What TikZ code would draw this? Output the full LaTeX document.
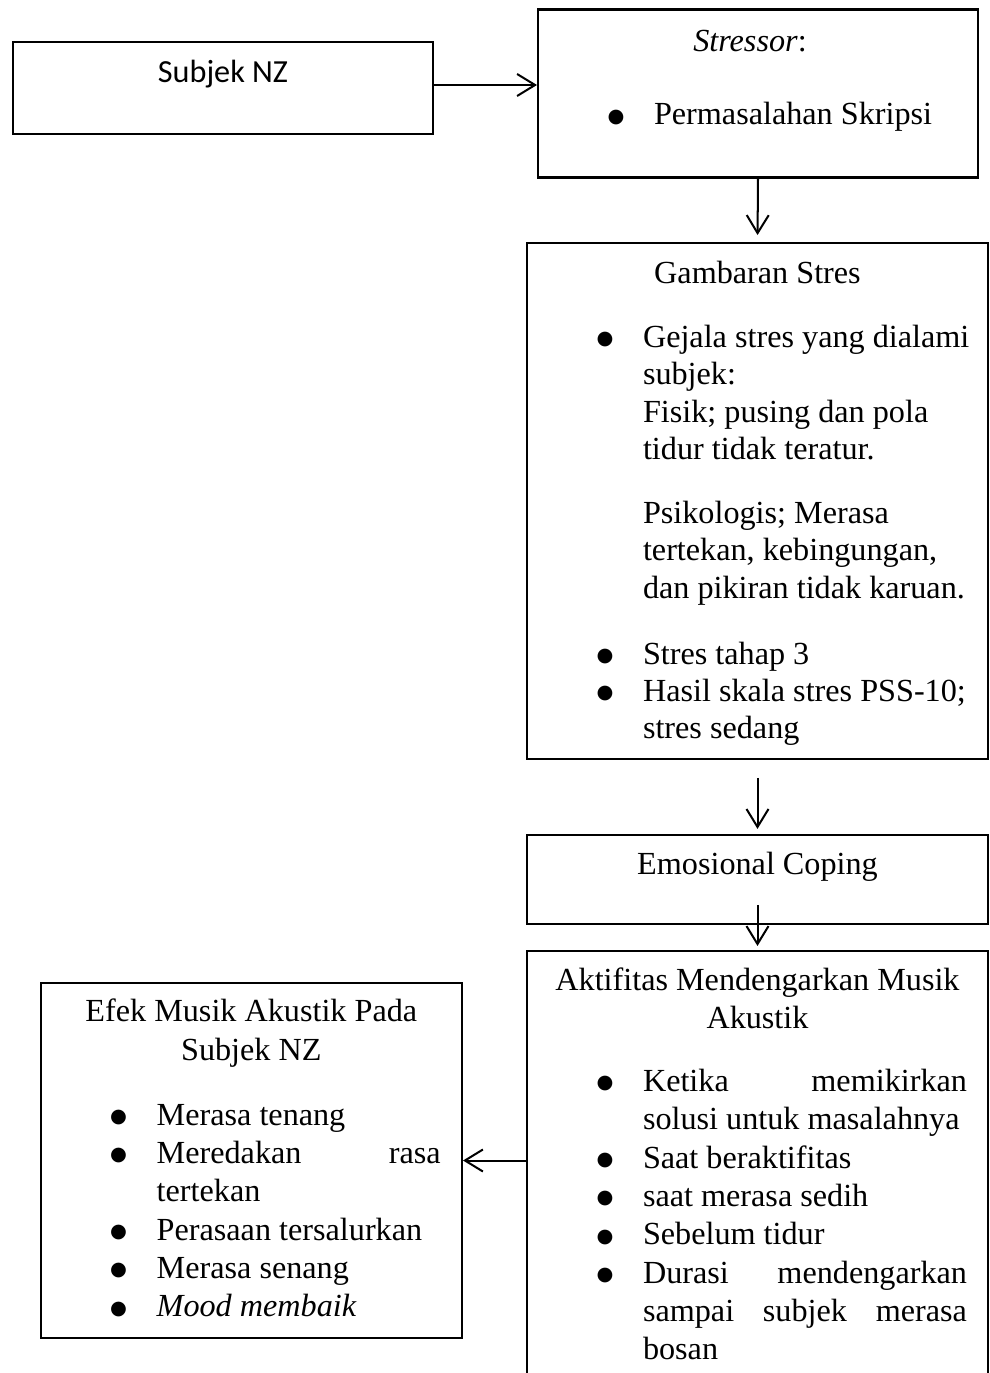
\documentclass[tikz,border=0pt]{standalone}
\usepackage{fontspec}
\setmainfont{Liberation Serif}
\newfontfamily\calibri{Carlito}
\newfontfamily\symb{DejaVu Sans}
\usepackage{tikz}
\usetikzlibrary{arrows.meta, positioning, calc}

\newlength{\pxu}
\setlength{\pxu}{0.3727pt}
\newcommand{\boxtext}[3]{\begin{minipage}[t][#2\pxu][t]{#1\pxu}#3\end{minipage}}
\newcommand{\topline}[1]{\vspace*{\dimexpr#1\pxu-.7\baselineskip\relax}\strut}
\newcommand{\bul}{\makebox[116\pxu][l]{\hspace*{69.5\pxu}\raisebox{1pt}{\symb\fontsize{7.2}{8}\selectfont ●}}}
\newcommand{\ind}{\hspace*{116\pxu}}
\newcommand{\just}[2]{\makebox[#1\pxu][s]{#2}}

\begin{document}
\begin{tikzpicture}[x=0.3727pt, y=-0.3727pt,
	box/.style={draw, line width=0.75pt, inner sep=0pt},
	arr/.style={line width=0.75pt, -{Straight Barb[length=6.7pt,width=8.2pt]}}]
	\useasboundingbox (0,0) rectangle (990,1373);
	\clip (0,0) rectangle (990,1373);
	\node[box] (subjek) at (223,88) {\boxtext{420}{92}{\calibri\fontsize{12}{14.4}\selectfont
		{\centering\topline{41}Subjek NZ\par}}};
	\node[box] (stressor) at (758,93.5) {\boxtext{440}{168}{\fontsize{12}{13.9}\selectfont
		{\centering\topline{42}\textit{Stressor}:\hspace*{16\pxu}\par}
		\vspace{36\pxu}
		\bul Permasalahan Skripsi}};
	\node[box] (gambaran) at (757.5,501) {\boxtext{461}{516}{\fontsize{12}{13.9}\selectfont
		{\centering\topline{40}Gambaran Stres\par}
		\vspace{27.2\pxu}\raggedright
		\bul Gejala stres yang dialami\\
		\ind subjek:\\
		\ind Fisik; pusing dan pola\\
		\ind tidur tidak teratur.\\[27\pxu]
		\ind Psikologis; Merasa\\
		\ind tertekan, kebingungan,\\
		\ind dan pikiran tidak karuan.\\[28.7\pxu]
		\bul Stres tahap 3\\
		\bul Hasil skala stres PSS-10;\\
		\ind stres sedang}};
	\node[box] (coping) at (757.5,879.5) {\boxtext{461}{89}{\fontsize{12}{13.9}\selectfont
		{\centering\topline{39}Emosional Coping\par}}};
	\node[box] (aktifitas) at (757.5,1185.5) {\boxtext{461}{469}{\fontsize{12}{14.3}\selectfont
		{\centering\topline{39}Aktifitas Mendengarkan Musik\\Akustik\par}
		\vspace{24.6\pxu}\raggedright
		\bul\just{324}{Ketika memikirkan}\\
		\ind solusi untuk masalahnya\\
		\bul Saat beraktifitas\\
		\bul saat merasa sedih\\
		\bul Sebelum tidur\\
		\bul\just{324}{Durasi mendengarkan}\\
		\ind\just{324}{sampai subjek merasa}\\
		\ind bosan}};
	\node[box] (efek) at (251.35,1160.5) {\boxtext{421.3}{355}{\fontsize{12}{14.3}\selectfont
		{\centering\topline{38.7}Efek Musik Akustik Pada\\Subjek NZ\par}
		\vspace{26.6\pxu}\raggedright
		\bul Merasa tenang\\
		\bul\just{284}{Meredakan rasa}\\
		\ind tertekan\\
		\bul Perasaan tersalurkan\\
		\bul Merasa senang\\
		\bul\textit{Mood membaik}}};
	% arrows
	\draw[arr] (subjek.east |- 0,85) -- (stressor.west |- 0,85);
	\draw[arr, shorten >=2.6pt] (stressor.south) -- (gambaran.north);
	\draw[arr, shorten <=6.7pt, shorten >=1.9pt] (gambaran.south) -- (coping.north);
	\draw[arr, shorten <=-7.5pt, shorten >=1.5pt] (coping.south) -- (aktifitas.north);
	\draw[arr] (aktifitas.west |- efek.east) -- (efek.east);
\end{tikzpicture}
\end{document}
